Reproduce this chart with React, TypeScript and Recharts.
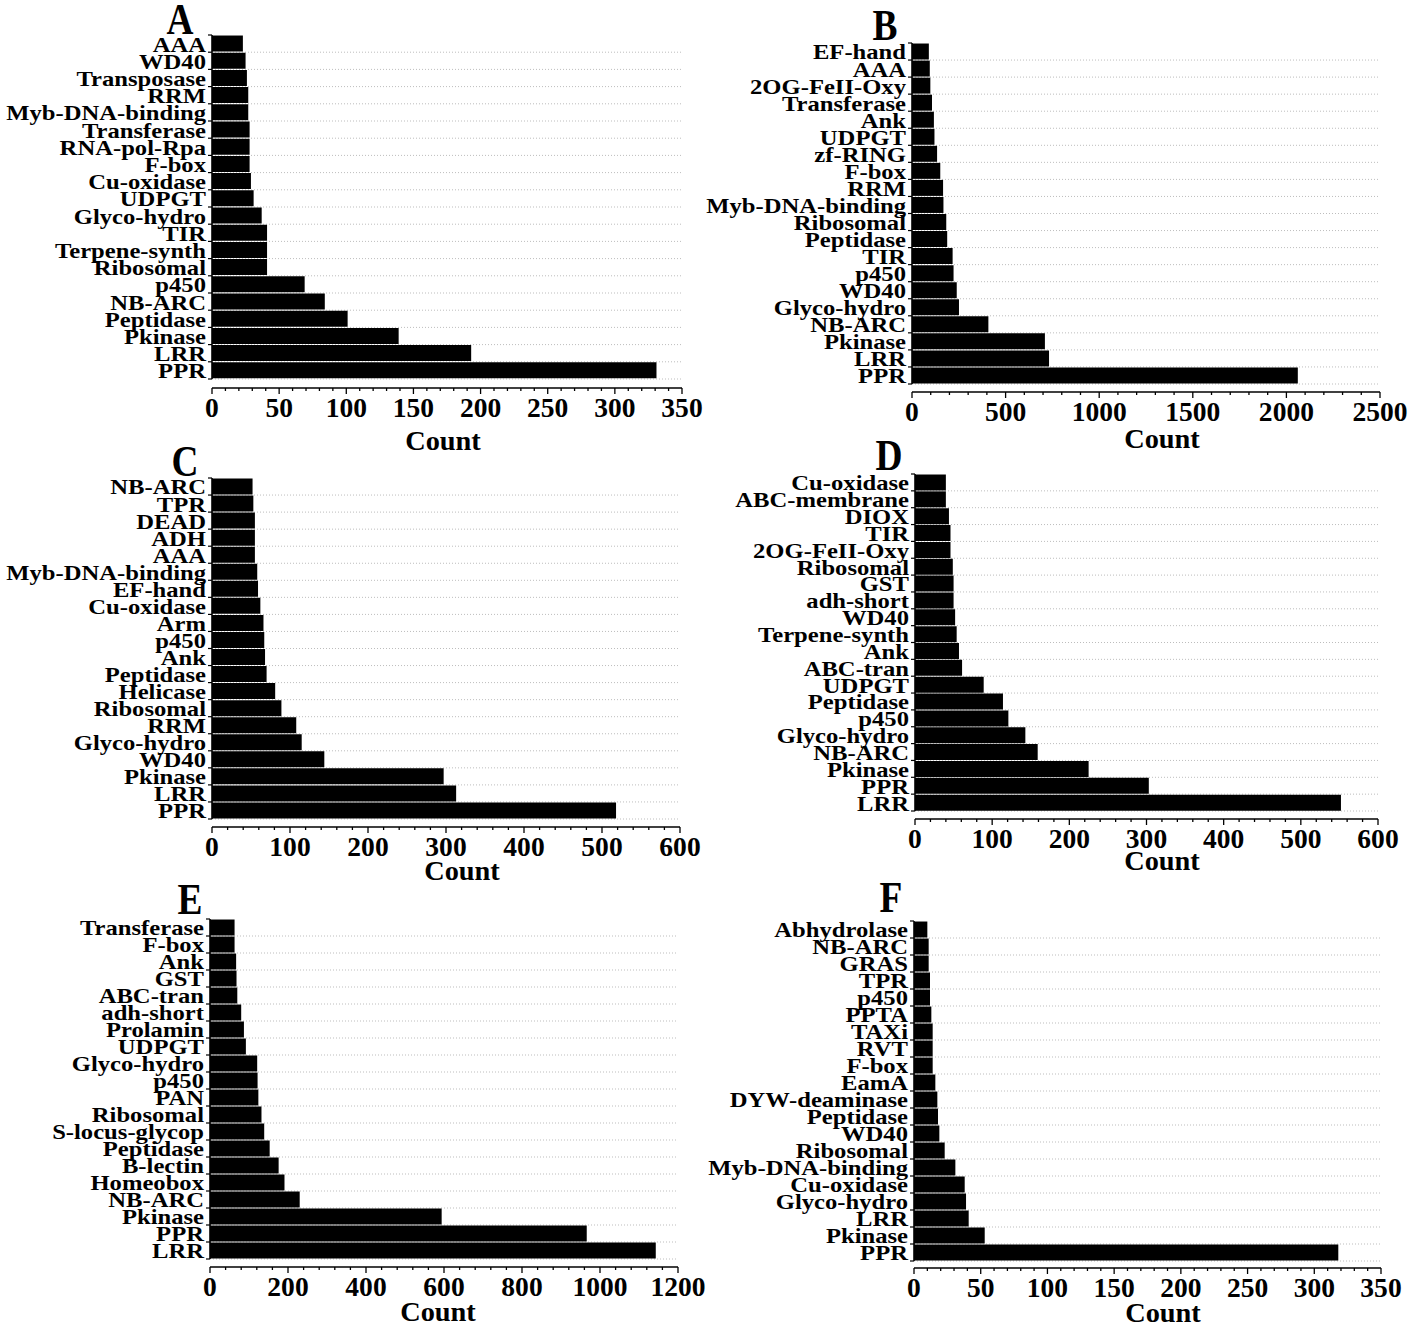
import React from "react";
import { BarChart, Bar, XAxis, YAxis, CartesianGrid } from "recharts";

// ---- data (top row of each panel first) ----
const A_LABELS = ["AAA", "WD40", "Transposase", "RRM", "Myb-DNA-binding", "Transferase", "RNA-pol-Rpa", "F-box", "Cu-oxidase", "UDPGT", "Glyco-hydro", "TIR", "Terpene-synth", "Ribosomal", "p450", "NB-ARC", "Peptidase", "Pkinase", "LRR", "PPR"];
const A_COUNTS = [23, 25, 26, 27, 27, 28, 28, 28, 29, 31, 37, 41, 41, 41, 69, 84, 101, 139, 193, 331];
const A_TICKS = [0, 50, 100, 150, 200, 250, 300, 350];

const B_LABELS = ["EF-hand", "AAA", "2OG-FeII-Oxy", "Transferase", "Ank", "UDPGT", "zf-RING", "F-box", "RRM", "Myb-DNA-binding", "Ribosomal", "Peptidase", "TIR", "p450", "WD40", "Glyco-hydro", "NB-ARC", "Pkinase", "LRR", "PPR"];
const B_COUNTS = [90, 95, 98, 107, 117, 120, 134, 151, 166, 168, 183, 188, 217, 222, 239, 251, 408, 710, 732, 2061];
const B_TICKS = [0, 500, 1000, 1500, 2000, 2500];

const C_LABELS = ["NB-ARC", "TPR", "DEAD", "ADH", "AAA", "Myb-DNA-binding", "EF-hand", "Cu-oxidase", "Arm", "p450", "Ank", "Peptidase", "Helicase", "Ribosomal", "RRM", "Glyco-hydro", "WD40", "Pkinase", "LRR", "PPR"];
const C_COUNTS = [52, 53, 55, 55, 55, 58, 59, 62, 66, 67, 68, 70, 81, 89, 108, 115, 144, 297, 313, 518];
const C_TICKS = [0, 100, 200, 300, 400, 500, 600];

const D_LABELS = ["Cu-oxidase", "ABC-membrane", "DIOX", "TIR", "2OG-FeII-Oxy", "Ribosomal", "GST", "adh-short", "WD40", "Terpene-synth", "Ank", "ABC-tran", "UDPGT", "Peptidase", "p450", "Glyco-hydro", "NB-ARC", "Pkinase", "PPR", "LRR"];
const D_COUNTS = [40, 40, 44, 46, 46, 49, 50, 50, 52, 54, 57, 61, 89, 114, 121, 143, 159, 225, 303, 552];
const D_TICKS = [0, 100, 200, 300, 400, 500, 600];

const E_LABELS = ["Transferase", "F-box", "Ank", "GST", "ABC-tran", "adh-short", "Prolamin", "UDPGT", "Glyco-hydro", "p450", "PAN", "Ribosomal", "S-locus-glycop", "Peptidase", "B-lectin", "Homeobox", "NB-ARC", "Pkinase", "PPR", "LRR"];
const E_COUNTS = [63, 63, 67, 68, 70, 80, 87, 92, 121, 122, 124, 132, 139, 153, 176, 191, 230, 594, 966, 1143];
const E_TICKS = [0, 200, 400, 600, 800, 1000, 1200];

const F_LABELS = ["Abhydrolase", "NB-ARC", "GRAS", "TPR", "p450", "PPTA", "TAXi", "RVT", "F-box", "EamA", "DYW-deaminase", "Peptidase", "WD40", "Ribosomal", "Myb-DNA-binding", "Cu-oxidase", "Glyco-hydro", "LRR", "Pkinase", "PPR"];
const F_COUNTS = [10, 11, 11, 12, 12, 13, 14, 14, 14, 16, 17.5, 18, 19, 23, 31, 38, 39, 41, 53, 318];
const F_TICKS = [0, 50, 100, 150, 200, 250, 300, 350];

const LETTERS = ["A", "B", "C", "D", "E", "F"];
const AXIS_TITLE = "Count";

// ---- layout (page pixels) ----
const LAYOUT = [
  { plotLeft: 212, plotRight: 682, bandTop: 35, bandBottom: 379, axisY: 388, letter: [180, 34], title: [443, 450] },
  { plotLeft: 912, plotRight: 1380, bandTop: 43, bandBottom: 384, axisY: 392, letter: [885, 40], title: [1162, 448] },
  { plotLeft: 212, plotRight: 680, bandTop: 478, bandBottom: 819, axisY: 827, letter: [185, 476], title: [462, 880] },
  { plotLeft: 915, plotRight: 1378, bandTop: 474, bandBottom: 811, axisY: 819, letter: [889, 470], title: [1162, 870] },
  { plotLeft: 210, plotRight: 678, bandTop: 919, bandBottom: 1259, axisY: 1267, letter: [190, 914], title: [438, 1321] },
  { plotLeft: 914, plotRight: 1381, bandTop: 921, bandBottom: 1261, axisY: 1268, letter: [891, 912], title: [1163, 1322] },
];

const PANELS = [
  { labels: A_LABELS, counts: A_COUNTS, ticks: A_TICKS },
  { labels: B_LABELS, counts: B_COUNTS, ticks: B_TICKS },
  { labels: C_LABELS, counts: C_COUNTS, ticks: C_TICKS },
  { labels: D_LABELS, counts: D_COUNTS, ticks: D_TICKS },
  { labels: E_LABELS, counts: E_COUNTS, ticks: E_TICKS },
  { labels: F_LABELS, counts: F_COUNTS, ticks: F_TICKS },
];

const FONT = "'Liberation Serif', 'Times New Roman', serif";
const Y_AXIS_W = 210;
const TOP = 8;
const RIGHT = 40;
const X_AXIS_H = 42;

function Panel({ idx }: { idx: number }) {
  const { labels, counts, ticks } = PANELS[idx];
  const L = LAYOUT[idx];
  const data = labels.map((name, i) => ({ name, count: counts[i] }));
  const plotW = L.plotRight - L.plotLeft;
  const plotH = L.axisY - L.bandTop;
  const padBottom = L.axisY - L.bandBottom;
  const width = Y_AXIS_W + plotW + RIGHT;
  const height = TOP + plotH + X_AXIS_H;
  const axisX = Y_AXIS_W;
  const axisYsvg = TOP + plotH;
  const n = labels.length;
  const fallbackHalf = (L.bandBottom - L.bandTop) / n / 2;

  // minor ticks: five subdivisions per major step
  const step = ticks[1] - ticks[0];
  const allTicks: number[] = [];
  ticks.forEach((t, i) => {
    allTicks.push(t);
    if (i < ticks.length - 1) for (let k = 1; k < 5; k++) allTicks.push(t + (step * k) / 5);
  });

  const YTick = (props: any) => {
    const { y, payload, index } = props;
    const half = payload && payload.offset > 3 ? payload.offset : fallbackHalf;
    return (
      <g>
        <line x1={axisX} x2={axisX} y1={y - half} y2={y + half} stroke="#000" strokeWidth={1.6} />
        <line x1={axisX - 4} x2={axisX} y1={y - half} y2={y - half} stroke="#000" strokeWidth={1.2} />
        {index === n - 1 && (
          <line x1={axisX - 4} x2={axisX} y1={y + half} y2={y + half} stroke="#000" strokeWidth={1.2} />
        )}
        <text
          transform={`translate(${axisX - 6},${y}) scale(1.12,1)`}
          textAnchor="end"
          dy="0.36em"
          fontFamily={FONT}
          fontWeight="bold"
          fontSize={22}
          fill="#000"
        >
          {payload.value}
        </text>
      </g>
    );
  };

  const XTick = (props: any) => {
    const { x, payload } = props;
    const major = ticks.includes(payload.value);
    return (
      <g>
        <line x1={x} x2={x} y1={axisYsvg} y2={axisYsvg + (major ? 6 : 3)} stroke="#000" strokeWidth={1.3} />
        {major && (
          <text
            transform={`translate(${x},${axisYsvg + 29}) scale(1.02,1)`}
            textAnchor="middle"
            fontFamily={FONT}
            fontWeight="bold"
            fontSize={27}
            fill="#000"
          >
            {payload.value}
          </text>
        )}
      </g>
    );
  };

  const gridGen = ({ offset }: any) => {
    const h = (offset.height - padBottom) / n;
    const pts: number[] = [];
    for (let i = 1; i <= n; i++) pts.push(offset.top + i * h);
    return pts;
  };

  return (
    <div style={{ position: "absolute", left: L.plotLeft - Y_AXIS_W, top: L.bandTop - TOP }}>
      <BarChart
        width={width}
        height={height}
        data={data}
        layout="vertical"
        margin={{ top: TOP, right: RIGHT, bottom: 0, left: 0 }}
        barCategoryGap="3%"
      >
        <CartesianGrid
          vertical={false}
          horizontalCoordinatesGenerator={gridGen}
          stroke="#bdbdbd"
          strokeDasharray="1 2"
        />
        <XAxis
          type="number"
          domain={[0, ticks[ticks.length - 1]]}
          ticks={allTicks}
          interval={0}
          height={X_AXIS_H}
          axisLine={{ stroke: "#000", strokeWidth: 1.6 }}
          tickLine={false}
          tick={XTick}
        />
        <YAxis
          type="category"
          dataKey="name"
          width={Y_AXIS_W}
          interval={0}
          axisLine={false}
          tickLine={false}
          tickSize={0}
          padding={{ top: 0, bottom: padBottom }}
          tick={YTick}
        />
        <Bar dataKey="count" fill="#000" isAnimationActive={false} />
      </BarChart>
    </div>
  );
}

export default function App() {
  return (
    <div style={{ position: "absolute", left: 0, top: 0, width: 1418, height: 1328, background: "#fff" }}>
      {PANELS.map((_, i) => (
        <Panel key={i} idx={i} />
      ))}
      <svg width={1418} height={1328} style={{ position: "absolute", left: 0, top: 0, pointerEvents: "none" }}>
        {LAYOUT.map((L, i) => (
          <g key={i}>
            <text
              transform={`translate(${L.letter[0]},${L.letter[1]}) scale(0.85,1)`}
              textAnchor="middle"
              fontFamily={FONT}
              fontWeight="bold"
              fontSize={44}
              fill="#000"
            >
              {LETTERS[i]}
            </text>
            <text
              transform={`translate(${L.title[0]},${L.title[1]}) scale(1.05,1)`}
              textAnchor="middle"
              fontFamily={FONT}
              fontWeight="bold"
              fontSize={27}
              fill="#000"
            >
              {AXIS_TITLE}
            </text>
          </g>
        ))}
      </svg>
    </div>
  );
}
